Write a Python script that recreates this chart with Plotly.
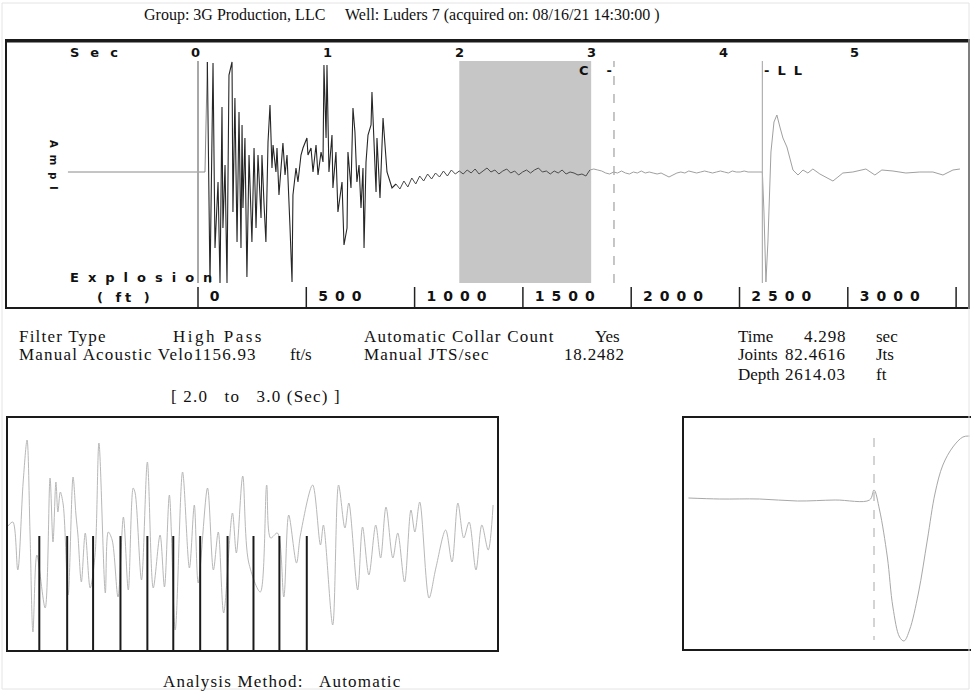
import numpy as np
import plotly.graph_objects as go

W, H = 971, 692

# ---------------- data (seconds / relative amplitude counts) ----------------
PRE_T = [-0.967, 0.072]
PRE_A = [0, 0]

EARLY_T = [0.090, 0.110, 0.133, 0.148, 0.171, 0.186, 0.201, 0.208, 0.224, 0.239,
           0.254, 0.277, 0.284, 0.299, 0.315, 0.330, 0.345, 0.353, 0.360, 0.375,
           0.390, 0.406, 0.428, 0.444, 0.459, 0.474, 0.497, 0.504, 0.519, 0.534,
           0.550, 0.565, 0.580, 0.588, 0.610, 0.618, 0.633, 0.663, 0.679, 0.694,
           0.716, 0.732, 0.739, 0.762, 0.777, 0.800, 0.815, 0.845, 0.853, 0.876,
           0.891, 0.914, 0.929, 0.952, 0.967, 0.974, 0.990, 0.997, 1.012, 1.035,
           1.042, 1.065, 1.080, 1.111, 1.126, 1.149, 1.156, 1.179, 1.194, 1.209,
           1.224, 1.240, 1.255, 1.270, 1.278, 1.293, 1.308, 1.331, 1.338, 1.353,
           1.369, 1.376, 1.399, 1.422, 1.452, 1.490]
EARLY_A = [110, -111, 109, -76, -10, -111, 65, -56, 7, -111,
           97, 110, -40, 74, -70, 60, -76, 47, -36, 34,
           -105, 17, -70, 24, -56, 17, -46, 17, -30, -70,
           30, 67, 4, 27, 0, 24, -23, 29, -3, 17,
           -53, -110, -23, 4, -10, 17, 24, 34, 17, 24,
           0, 27, -3, 20, 10, 107, 34, 107, 0, 37,
           -16, 20, -40, -10, -73, -56, 20, -16, 64, 40,
           -10, 7, -36, 4, -76, 10, 37, 47, 80, 27,
           -20, 34, -26, 54, 0, -16]

NOISE_T0 = 1.52
NOISE_DT = 0.03
NOISE_A = [-12, -17, -9, -15, -6, -12, -4, -9, -2, -7,
           -1, -5, 1, -4, 2, -2, 1, -2, 2, -1,
           3, -2, 1, 4, 0, 2, -2, 1, 3, -1,
           1, -3, 0, 2, -1, 2, 4, 0, 1, -2,
           1, -1, 2, -2, 0, -1, -3, -2, -4, 2,
           3, 2, 1, -1, -2, 0, -1, 1, -1, -2,
           0, -1, 1, -1, 0, -1, -2, -1, -3, -5,
           -3, -1, 0, -1, 1, 0, -1, 0, 1, 0,
           -1, 0, 1, 0, -1, 1, 0, 0, 1, 0,
           0, 0, 0]

ECHO_T = [4.298, 4.310, 4.325, 4.340, 4.363, 4.386, 4.408, 4.431, 4.454, 4.484,
          4.507, 4.530, 4.568, 4.606, 4.643, 4.681, 4.734, 4.780, 4.833, 4.871,
          4.908, 4.984, 5.083, 5.151, 5.204, 5.288, 5.386, 5.492, 5.591, 5.667,
          5.743, 5.796]
ECHO_A = [0, -40, -110, -70, 20, 50, 57, 45, 34, 25,
          14, 2, -3, 2, -1, 3, -2, -5, -9, -5,
          -1, 0, 3, -3, 2, 1, -1, 0, 0, -3,
          2, 3]

WINDOW = [2.0, 3.0]
EXPLOSION_T = 0.019
COLLAR_MARK_T = 3.173
LL_T_MARK = 4.298

SEC_TICKS = [0, 1, 2, 3, 4, 5]
FT_TICKS = [0, 500, 1000, 1500, 2000, 2500, 3000, 3500]
FT_LABELS = ["0", "500", "1000", "1500", "2000", "2500", "3000", "3500"]

ZOOM_T = [2.000, 2.010, 2.020, 2.031, 2.039, 2.045, 2.051, 2.059, 2.076, 2.086,
          2.092, 2.098, 2.102, 2.107, 2.113, 2.123, 2.133, 2.139, 2.143, 2.150,
          2.158, 2.168, 2.178, 2.186, 2.199, 2.205, 2.213, 2.225, 2.236, 2.246,
          2.256, 2.260, 2.273, 2.285, 2.297, 2.311, 2.320, 2.330, 2.342, 2.357,
          2.371, 2.381, 2.389, 2.408, 2.420, 2.430, 2.441, 2.459, 2.467, 2.480,
          2.492, 2.516, 2.529, 2.537, 2.551, 2.564, 2.574, 2.590, 2.598, 2.623,
          2.639, 2.645, 2.664, 2.676, 2.689, 2.697, 2.715, 2.725, 2.738, 2.752,
          2.762, 2.773, 2.787, 2.797, 2.811, 2.824, 2.832, 2.842, 2.861, 2.875,
          2.895, 2.908, 2.920, 2.932, 2.943, 2.957, 2.969, 2.982, 2.992]
ZOOM_A = [10, 14, -34, 54, 96, 4, -96, -19, -72, 58,
          -6, 54, 24, 44, 31, -59, 59, 21, 1, -46,
          3, -52, -19, 93, -57, 4, -4, -61, 19, -54,
          48, 43, -44, 74, -52, 1, -51, 41, -94, 64,
          -32, 31, -47, 48, -34, 4, -77, 23, -17, 60,
          -26, -56, 51, -2, 3, -61, 21, -27, 1, 51,
          -9, 11, -89, 51, 8, 33, -54, 9, -39, 11,
          -22, 29, -22, 3, -46, 26, 4, 34, -62, -32,
          6, -26, 33, -2, 14, -34, 11, -14, 31]
COLLAR_T = [2.064, 2.121, 2.174, 2.230, 2.285, 2.338, 2.393, 2.449, 2.502, 2.555, 2.611]

LLZ_T = [4.131, 4.159, 4.195, 4.229, 4.263, 4.294, 4.298, 4.303, 4.310, 4.315,
         4.321, 4.325, 4.330, 4.338, 4.346, 4.353, 4.360, 4.369, 4.378, 4.384]
LLZ_A = [0, -1, -1, -3, -2, -2, 8, -12, -59, -109,
         -139, -143, -132, -95, -42, 5, 33, 51, 61, 62]

# ---------------- helpers ----------------
def px(x):
    return x / W


def py(y):
    return 1 - y / H


def wide(s, ls):
    return f'<span style="letter-spacing:{ls}px">{s}</span>'


BOLD = "DejaVu Sans"
SERIF = "Liberation Serif"
INK = "#111"

fig = go.Figure()

# main waveform
noise_t = NOISE_T0 + NOISE_DT * np.arange(len(NOISE_A))
noise_a = np.array(NOISE_A)
fig.add_trace(go.Scatter(x=PRE_T + EARLY_T[:1], y=PRE_A + EARLY_A[:1], mode="lines",
                         line=dict(color="#8a8a8a", width=1), xaxis="x", yaxis="y"))
fig.add_trace(go.Scatter(x=EARLY_T + [noise_t[0]], y=EARLY_A + [NOISE_A[0]], mode="lines",
                         line=dict(color="#262626", width=1.1), xaxis="x", yaxis="y"))
m1 = noise_t <= WINDOW[1] + 0.01
fig.add_trace(go.Scatter(x=noise_t[m1], y=noise_a[m1], mode="lines",
                         line=dict(color="#4a4a4a", width=1), xaxis="x", yaxis="y"))
m2 = noise_t >= WINDOW[1] - 0.02
fig.add_trace(go.Scatter(x=list(noise_t[m2]) + ECHO_T, y=list(noise_a[m2]) + ECHO_A, mode="lines",
                         line=dict(color="#a0a0a0", width=1), xaxis="x", yaxis="y"))

# marker lines on main chart
fig.add_trace(go.Scatter(x=[EXPLOSION_T, EXPLOSION_T], y=[-111, 111], mode="lines",
                         line=dict(color="#a8a8a8", width=2), xaxis="x", yaxis="y"))
fig.add_trace(go.Scatter(x=[COLLAR_MARK_T, COLLAR_MARK_T], y=[-111, 111], mode="lines",
                         line=dict(color="#a0a0a0", width=1.2, dash="dash"), xaxis="x", yaxis="y"))
fig.add_trace(go.Scatter(x=[LL_T_MARK, LL_T_MARK], y=[-111, 111], mode="lines",
                         line=dict(color="#b0b0b0", width=1.2), xaxis="x", yaxis="y"))

# ft tick marks and labels (clipped by the chart frame)
ftx, fty = [], []
for f in FT_TICKS:
    ftx += [f, f, None]
    fty += [-135, -115, None]
fig.add_trace(go.Scatter(x=ftx, y=fty, mode="lines", line=dict(color="#222", width=1.5),
                         xaxis="x2", yaxis="y"))
fig.add_trace(go.Scatter(x=FT_TICKS, y=[-125] * len(FT_TICKS), mode="text",
                         text=["<b>" + wide("\u00a0" + s, 7) + "</b>" for s in FT_LABELS],
                         textposition="middle right", cliponaxis=True,
                         textfont=dict(family=BOLD, size=14, color=INK),
                         xaxis="x2", yaxis="y"))

# lower-left zoom panel
fig.add_trace(go.Scatter(x=ZOOM_T, y=ZOOM_A, mode="lines",
                         line=dict(color="#b8b8b8", width=1, shape="spline", smoothing=0.9),
                         xaxis="x3", yaxis="y3"))
cx, cy = [], []
for c in COLLAR_T:
    cx += [c, c, None]
    cy += [0, -114, None]
fig.add_trace(go.Scatter(x=cx, y=cy, mode="lines", line=dict(color="#1a1a1a", width=2),
                         xaxis="x3", yaxis="y3"))

# lower-right zoom panel
fig.add_trace(go.Scatter(x=LLZ_T, y=LLZ_A, mode="lines", line=dict(color="#a8a8a8", width=1, shape="spline"),
                         xaxis="x4", yaxis="y4"))
fig.add_trace(go.Scatter(x=[LL_T_MARK, LL_T_MARK], y=[60, -142], mode="lines",
                         line=dict(color="#a8a8a8", width=1, dash="dash"), xaxis="x4", yaxis="y4"))

# shaded window
shapes = [
    dict(type="rect", xref="x", yref="y", x0=WINDOW[0], x1=WINDOW[1], y0=-111, y1=111,
         fillcolor="#c6c6c6", line=dict(width=0), layer="below"),
    dict(type="rect", xref="paper", yref="paper", x0=px(2), x1=px(969), y0=py(689), y1=py(3),
         line=dict(color="#e4e4e4", width=1)),
    dict(type="line", xref="paper", yref="paper", x0=px(7), x1=px(968), y0=py(41), y1=py(41),
         line=dict(color="#1a1a1a", width=3)),
]

ann = []


def note(x, y, s, size, family, anchor="center", ref="paper", angle=0, xshift=0):
    if ref == "paper":
        xx, yy, xr, yr = px(x), py(y), "paper", "paper"
    else:
        xx, yy, xr, yr = x, y, ref[0], ref[1]
    ann.append(dict(x=xx, y=yy, xref=xr, yref=yr, xanchor=anchor, yanchor="middle",
                    showarrow=False, text=s, textangle=angle, xshift=xshift,
                    font=dict(family=family, size=size, color=INK)))


note(402, 15, "Group: 3G Production, LLC&nbsp;&nbsp;&nbsp;&nbsp; Well: Luders 7 (acquired on: 08/16/21 14:30:00 )",
     16, SERIF)
note(68, 53, "<b>" + wide("Sec", 11) + "</b>", 13, BOLD, "left")
for s in SEC_TICKS:
    note(s, 120, f"<b>{s}</b>", 13, BOLD, "center", ref=("x", "y"))
note(COLLAR_MARK_T, 102, "<b>" + wide("C&nbsp;&nbsp;-", 3) + "</b>", 13, BOLD, "right", ref=("x", "y"), xshift=3)
note(LL_T_MARK, 102, "<b>" + wide("-LL", 8) + "</b>", 13, BOLD, "left", ref=("x", "y"))
note(68, 277, "<b>" + wide("Explosion", 9) + "</b>", 13, BOLD, "left")
note(95, 297, "<b>" + wide("( ft )", 4) + "</b>", 13, BOLD, "left")
note(54, 168, "<b>" + wide("Ampl", 7) + "</b>", 10, BOLD, "center", angle=90)


# info text
def txt(x, y, s, anchor="left", ls=1.2, size=17):
    note(x, y, wide(s, ls) if ls else s, size, SERIF, anchor)


txt(17, 336, "Filter Type")
txt(171, 336, "High Pass", ls=2.5)
txt(362, 336, "Automatic Collar Count")
txt(622, 336, "Yes", "right", ls=0)
txt(736, 336, "Time", ls=0)
txt(848, 336, "4.298", "right", ls=0.8)
txt(874, 336, "sec", ls=0)
txt(17, 355, "Manual Acoustic Velo1156.93")
txt(288, 355, "ft/s", ls=0)
txt(362, 355, "Manual JTS/sec")
txt(627, 355, "18.2482", "right", ls=0.8)
txt(736, 355, "Joints", ls=0)
txt(848, 355, "82.4616", "right", ls=0.8)
txt(874, 355, "Jts", ls=0)
txt(736, 374, "Depth", ls=0)
txt(848, 374, "2614.03", "right", ls=0.8)
txt(874, 374, "ft", ls=0)
txt(256, 396, "[ 2.0&nbsp;&nbsp; to&nbsp;&nbsp; 3.0 (Sec) ]", "center")
txt(282, 681, "Analysis Method:&nbsp;&nbsp; Automatic", "center")

ax_common = dict(showgrid=False, zeroline=False, showticklabels=False, ticks="")
fig.update_layout(
    width=W, height=H, autosize=False,
    margin=dict(l=0, r=0, t=0, b=0),
    paper_bgcolor="white", plot_bgcolor="rgba(0,0,0,0)",
    showlegend=False,
    xaxis=dict(domain=[px(7), px(968)], range=[-1.429, 5.857], anchor="y",
               showline=True, mirror=True, linecolor="#1a1a1a", linewidth=2, **ax_common),
    yaxis=dict(domain=[py(307), py(41)], range=[-135, 131], anchor="x",
               showline=True, mirror=True, linecolor="#1a1a1a", linewidth=2, **ax_common),
    xaxis2=dict(domain=[px(7), px(968)], range=[-881.8, 3554.9], overlaying="x", anchor="y",
                visible=False),
    xaxis3=dict(domain=[px(8), px(497)], range=[2.0, 3.0], anchor="y3",
                showline=True, mirror=True, linecolor="#1a1a1a", linewidth=2, **ax_common),
    yaxis3=dict(domain=[py(650), py(418)], range=[-114, 118], anchor="x3",
                showline=True, mirror=True, linecolor="#1a1a1a", linewidth=2, **ax_common),
    xaxis4=dict(domain=[px(684), 1.0], range=[4.127, 4.3853], anchor="y4",
                showline=True, mirror=True, linecolor="#1a1a1a", linewidth=2, **ax_common),
    yaxis4=dict(domain=[py(649), py(418)], range=[-151, 80], anchor="x4",
                showline=True, mirror=False, linecolor="#1a1a1a", linewidth=2, **ax_common),
    shapes=shapes,
    annotations=ann,
)

# the page body has a default 8px margin; remove it so the 971x692 figure fills the window
fig.write_html("out.html", config={"displayModeBar": False},
               post_script="document.body.style.margin='0';")
